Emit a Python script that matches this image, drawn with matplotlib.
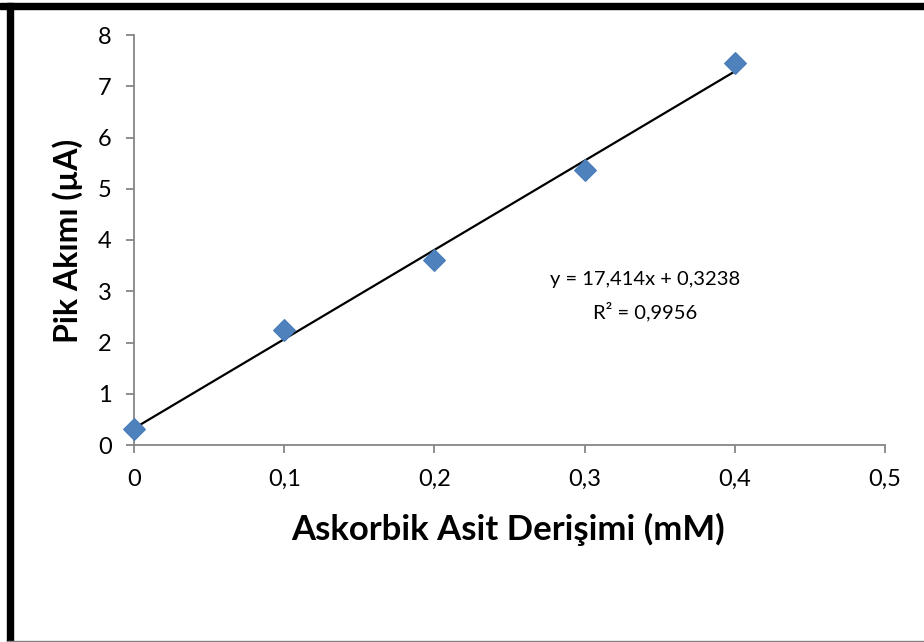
import matplotlib
matplotlib.use('Agg')
import matplotlib.pyplot as plt
import matplotlib.patches as patches
import numpy as np

# data
konsantrasyon = [0.0, 0.1, 0.2, 0.3, 0.4]
pik_akimi = [0.31, 2.24, 3.61, 5.37, 7.45]
egim = 17.414
kesim = 0.3238
r2 = 0.9956
x_ticks = [0, 0.1, 0.2, 0.3, 0.4, 0.5]
x_labels = ['0', '0,1', '0,2', '0,3', '0,4', '0,5']
y_ticks = [0, 1, 2, 3, 4, 5, 6, 7, 8]

plt.rcParams['font.family'] = ['Lato', 'DejaVu Sans']

W, H = 924, 642
fig = plt.figure(figsize=(W / 100, H / 100), dpi=100)
ax_l, ax_r, ax_t, ax_b = 134, 885, 35, 445  # pixel box of the plot area
ax = fig.add_axes([ax_l / W, 1 - ax_b / H, (ax_r - ax_l) / W, (ax_b - ax_t) / H])

# trendline
xl = np.array([konsantrasyon[0], konsantrasyon[-1]])
ax.plot(xl, egim * xl + kesim, color='black', lw=1.6, zorder=2)
ax.scatter(konsantrasyon, pik_akimi, marker='D', s=120, color='#4F81BD',
           edgecolors='#4A7EBB', zorder=3, clip_on=False)

ax.set_xlim(0, 0.5)
ax.set_ylim(0, 8)
ax.set_xticks(x_ticks)
ax.set_xticklabels(x_labels)
ax.set_yticks(y_ticks)
for s in ['top', 'right']:
    ax.spines[s].set_visible(False)
for s in ['left', 'bottom']:
    ax.spines[s].set_color('#868686')
    ax.spines[s].set_linewidth(1.3)
ax.tick_params(direction='out', length=6, width=1.3, color='#868686',
               labelsize=17)
ax.tick_params(axis='x', pad=11)
ax.tick_params(axis='y', pad=10)

ax.set_xlabel('Askorbik Asit Derişimi (mM)', fontsize=25, fontweight='bold', va='center')
ax.set_ylabel('Pik Akımı (µA)', fontsize=23, fontweight='bold', va='center')
ax.xaxis.set_label_coords((508 - ax_l) / (ax_r - ax_l), -(529 - ax_b) / (ax_b - ax_t))
ax.yaxis.set_label_coords((68 - ax_l) / (ax_r - ax_l), (ax_b - 241) / (ax_b - ax_t))

ax.text(0.34, 3.22, 'y = 17,414x + 0,3238', ha='center', va='center', fontsize=14.5)
ax.text(0.34, 2.6, 'R² = 0,9956', ha='center', va='center', fontsize=14.5)

# outer frame like the pasted Excel chart
fig.patches.append(patches.Rectangle((0, 1 - 8.5 / H), 1, 5.5 / H, transform=fig.transFigure,
                                     color='black', zorder=10))
fig.patches.append(patches.Rectangle((7 / W, 0), 5.5 / W, 1 - 3 / H, transform=fig.transFigure,
                                     color='black', zorder=10))
fig.patches.append(patches.Rectangle((7 / W, 0), 1, 1.5 / H, transform=fig.transFigure,
                                     color='#808080', zorder=10))

fig.savefig('out.png', dpi=100)
